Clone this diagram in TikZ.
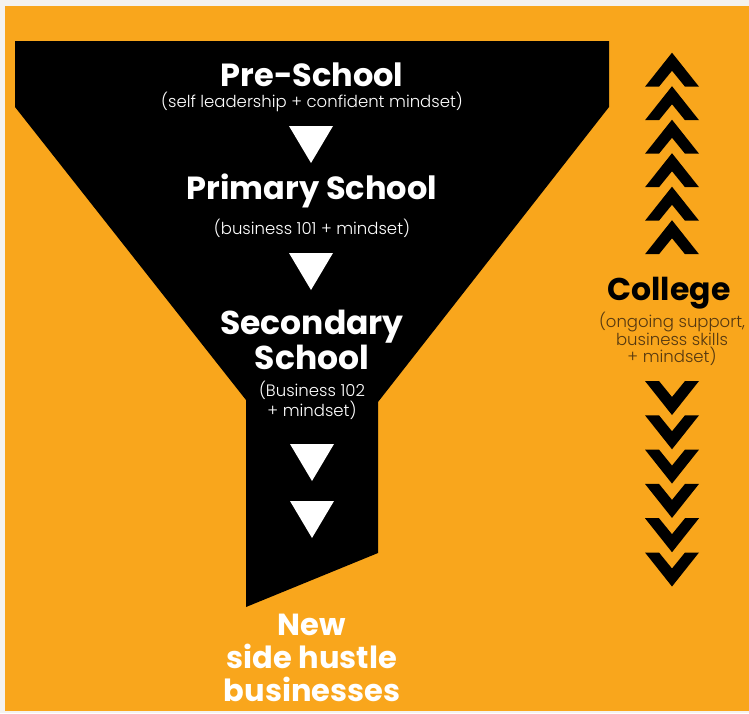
\documentclass[tikz,border=0pt]{standalone}
\usepackage{fontspec}
\setmainfont{Poppins}
\newfontfamily\lightfont{Poppins}[UprightFont=* Light]
\usetikzlibrary{calc}
\definecolor{funnelorange}{HTML}{F9A61C}
\definecolor{pagegray}{HTML}{F4F2EF}
\definecolor{notebrown}{HTML}{553810}
\tikzstyle{stage}=[
	 text=white, align=center, inner sep=0pt,
	 font=\bfseries\fontsize{32}{35}\selectfont
    ]
\tikzstyle{note}=[
	 text=white, align=center, inner sep=0pt,
	 font=\lightfont\fontsize{16.5}{20}\selectfont
    ]
\newcommand{\pTri}[1]{\fill[white] ($(#1)+(-22,0)$) -- ($(#1)+(22,0)$) -- ($(#1)+(0,37)$) -- cycle}
\newcommand{\pUp}[1]{\fill[black] (#1) -- ++(27,34) -- ++(-14,0) -- ++(-13,-16) -- ++(-13,16) -- ++(-14,0) -- cycle}
\newcommand{\pDn}[1]{\fill[black] ($(#1)+(-27,0)$) -- ++(14,0) -- ++(13,16) -- ++(13,-16) -- ++(14,0) -- ++(-27,34) -- cycle}

\begin{document}
\begin{tikzpicture}[x=1pt,y=-1pt]

% page and backdrop
\fill[pagegray] (0,0) rectangle (749,713);
\fill[funnelorange] (5,6) rectangle (749,711);
\useasboundingbox (0,0) rectangle (749,713);

% funnel
\fill[black] (15,41) -- (609,41) -- (609,107) -- (378,402) -- (378,553)
  -- (246,607) -- (246,400) -- (15,107) -- cycle;

\node[stage] (pre) at (312,75) {Pre-School};
\node[note] (preN) at (312,102) {(self leadership + confident mindset)};
\node[stage] (prim) at (312,191) {Primary School};
\node[note] (primN) at (312,228) {(business 101 + mindset)};
\node[stage,font=\bfseries\fontsize{33}{35}\selectfont] (sec) at (312,340) {Secondary\\School};
\node[note] (secN) at (312,400) {(Business 102\\+ mindset)};
\node[stage,font=\bfseries\fontsize{30.5}{33}\selectfont] (new) at (312,658) {New\\side hustle\\businesses};

\pTri{311,126};
\pTri{311,253};
\pTri{312,444};
\pTri{312,501};

% college column
\node[stage,text=black,font=\bfseries\fontsize{31.5}{30}\selectfont] (col) at (669,293) {College};
\node[note,text=notebrown,font=\lightfont\fontsize{16.5}{17.5}\selectfont] (colN) at (672,339)
  {(ongoing support,\\business skills\\+ mindset)};

\pUp{672,52.7};
\pUp{672,86.2};
\pUp{672,119.7};
\pUp{672,153.2};
\pUp{672,186.7};
\pUp{672,220.2};

\pDn{672,381};
\pDn{672,415.3};
\pDn{672,449.6};
\pDn{672,483.9};
\pDn{672,518.2};
\pDn{672,552.5};

\end{tikzpicture}
\end{document}
